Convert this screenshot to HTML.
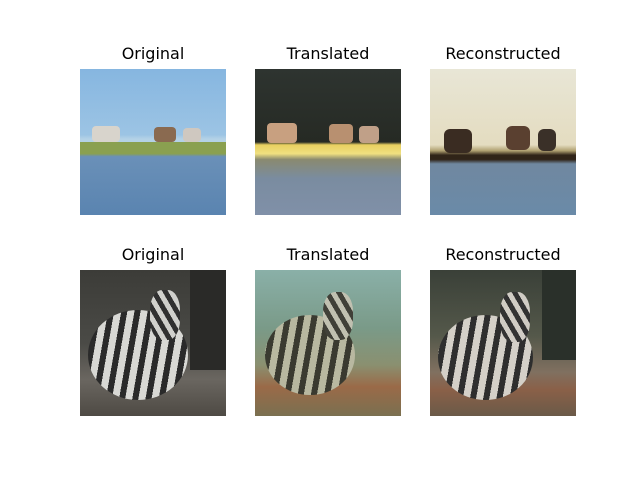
<!DOCTYPE html>
<html><head><meta charset="utf-8">
<style>
html,body{margin:0;padding:0;background:#fff;}
body{width:640px;height:480px;position:relative;overflow:hidden;font-family:"DejaVu Sans","Liberation Sans",sans-serif;}
.t{position:absolute;width:200px;text-align:center;font-size:16px;color:#000;line-height:20px;}
.im{position:absolute;width:146px;height:146px;overflow:hidden;}
.a{position:absolute;}
</style></head><body>
<div class="t" style="left:53px;top:44px">Original</div>
<div class="t" style="left:228px;top:44px">Translated</div>
<div class="t" style="left:403px;top:44px">Reconstructed</div>
<div class="t" style="left:53px;top:245px">Original</div>
<div class="t" style="left:228px;top:245px">Translated</div>
<div class="t" style="left:403px;top:245px">Reconstructed</div>

<div class="im" style="left:80px;top:69px;background:linear-gradient(#86b6e0 0%,#9cc4e4 45%,#b4d2e6 48%,#b4d2e6 50%,#8aa050 50%,#8aa050 58%,#6a90b8 60%,#5a84b0 100%);">
 <div class="a" style="left:12px;top:57px;width:28px;height:16px;background:#d8d4cc;border-radius:4px"></div>
 <div class="a" style="left:74px;top:58px;width:22px;height:15px;background:#8a6a50;border-radius:4px"></div>
 <div class="a" style="left:103px;top:59px;width:18px;height:14px;background:#cfc8c0;border-radius:4px"></div>
</div>
<div class="im" style="left:255px;top:69px;background:linear-gradient(#2e3430 0%,#262a24 50%,#e8d060 52%,#f0e080 58%,#8a8a70 62%,#7a8ca0 75%,#8090a8 100%);">
 <div class="a" style="left:12px;top:54px;width:30px;height:20px;background:#c8a080;border-radius:4px"></div>
 <div class="a" style="left:74px;top:55px;width:24px;height:19px;background:#b89070;border-radius:4px"></div>
 <div class="a" style="left:104px;top:57px;width:20px;height:17px;background:#c0a088;border-radius:4px"></div>
</div>
<div class="im" style="left:430px;top:69px;background:linear-gradient(#e8e6d6 0%,#e4dcc0 52%,#b0a070 56%,#302418 59%,#302418 62%,#7088a0 65%,#6a8aa8 100%);">
 <div class="a" style="left:14px;top:60px;width:28px;height:24px;background:#3a2c22;border-radius:6px"></div>
 <div class="a" style="left:76px;top:57px;width:24px;height:24px;background:#5a4030;border-radius:6px"></div>
 <div class="a" style="left:108px;top:60px;width:18px;height:22px;background:#3a3028;border-radius:6px"></div>
</div>
<div class="im" style="left:80px;top:270px;background:linear-gradient(#3c3c38 0%,#4a4a46 50%,#6a6660 75%,#4e4a44 100%);">
 <div class="a" style="left:110px;top:0;width:36px;height:100px;background:#2a2a28;"></div>
 <div class="a" style="left:8px;top:40px;width:100px;height:90px;border-radius:50%;background:repeating-linear-gradient(100deg,#d8d8d4 0 7px,#2a2a2a 7px 13px);"></div>
 <div class="a" style="left:70px;top:20px;width:30px;height:50px;border-radius:40%;background:repeating-linear-gradient(60deg,#d0d0cc 0 5px,#303030 5px 10px);"></div>
</div>
<div class="im" style="left:255px;top:270px;background:linear-gradient(#8ab0a8 0%,#7a9a88 40%,#8a9070 65%,#9a6a48 80%,#7a7050 100%);">
 <div class="a" style="left:10px;top:45px;width:90px;height:80px;border-radius:50%;background:repeating-linear-gradient(100deg,#b8b8a0 0 7px,#3a3a30 7px 13px);"></div>
 <div class="a" style="left:68px;top:22px;width:30px;height:48px;border-radius:40%;background:repeating-linear-gradient(60deg,#c0c0b0 0 5px,#404038 5px 10px);"></div>
</div>
<div class="im" style="left:430px;top:270px;background:linear-gradient(#3a4038 0%,#54584a 45%,#807060 70%,#8a6048 82%,#6a5a48 100%);">
 <div class="a" style="left:112px;top:0;width:34px;height:90px;background:#2a302a;"></div>
 <div class="a" style="left:8px;top:45px;width:95px;height:85px;border-radius:50%;background:repeating-linear-gradient(100deg,#d4d0c8 0 7px,#2e2e2e 7px 13px);"></div>
 <div class="a" style="left:70px;top:22px;width:30px;height:50px;border-radius:40%;background:repeating-linear-gradient(60deg,#d0ccc4 0 5px,#323232 5px 10px);"></div>
</div>
</body></html>
